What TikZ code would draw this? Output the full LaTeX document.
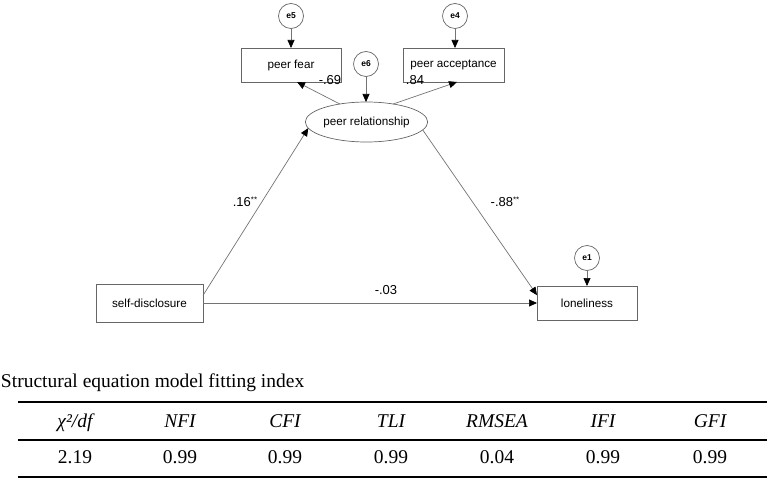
\documentclass[tikz,border=0pt]{standalone}
\usepackage{fontspec}
\setmainfont{Liberation Serif}
\setsansfont{Liberation Sans}
\usetikzlibrary{arrows.meta,calc,shapes.geometric}
\begin{document}
\begin{tikzpicture}[x=1pt,y=-1pt,
  every node/.style={inner sep=0pt,outer sep=0pt},
  box/.style={draw=black!60,line width=0.7pt,minimum width=100pt,minimum height=34pt,font=\sffamily\fontsize{11.7}{14}\selectfont},
  err/.style={circle,draw=black!60,line width=0.7pt,minimum size=25pt,font=\sffamily\bfseries\fontsize{8.5}{10}\selectfont},
  lat/.style={ellipse,draw=black!60,line width=0.7pt,minimum width=115pt,minimum height=40pt,font=\sffamily\fontsize{11.7}{14}\selectfont},
  pth/.style={draw=black!55,line width=0.7pt,-{Triangle[length=8pt,width=7pt,color=black]}},
  coef/.style={font=\sffamily\fontsize{13}{15}\selectfont},
  cell/.style={font=\fontsize{19.5}{22}\selectfont,anchor=base},
  hcell/.style={cell,font=\fontsize{19.5}{22}\selectfont\itshape},
  thickrule/.style={line width=2pt},
  thinrule/.style={line width=1.2pt}
]
\useasboundingbox (0,0) rectangle (767,481);
\newcommand{\sig}{\raisebox{4pt}{\fontsize{8}{8}\selectfont **}}

% measurement part
\node[err] (e5) at (291,16) {e5};
\node[box] (pf) at (291,65) {peer fear};
\node[err] (e4) at (455,16) {e4};
\node[box,minimum width=101pt] (pa) at (453.5,65) {peer acceptance};
\node[err] (e6) at (366,64) {e6};
\node[lat] (pr) at (366.5,122) {peer relationship};
\node[box,minimum width=107pt,minimum height=38pt] (sd) at (149.5,303) {self-disclosure};
\node[box] (lo) at (587,303) {loneliness};
\node[err] (e1) at (587,258) {e1};

% paths
\draw[pth] (e5) -- (pf);
\draw[pth] (e4) -- (e4 |- pa.north);
\draw[pth] (e6) -- (e6 |- pr.north);
\draw[pth] (e1) -- (e1 |- lo.north);
\draw[pth] (pr.146) -- ($(pf.south)+(6,0)$);
\draw[pth] (pr.34) -- ($(pa.south)+(3.5,0)$);
\draw[pth] ($(sd.north east)!0.3!(sd.south east)$) -- (pr.186);
\draw[pth] (pr.-8) -- ($(lo.north west)!0.27!(lo.south west)$);
\draw[pth] (sd.east) -- (lo.west);

% coefficients
\node[coef] (c1) at (330,80) {-.69};
\node[coef] (c2) at (415,80) {.84};
\node[coef] (c3) at (245,202) {.16\sig};
\node[coef] (c4) at (505,202) {-.88\sig};
\node[coef] (c5) at (386,290) {-.03};

% table
\node[anchor=base west,font=\fontsize{19.5}{22}\selectfont] (title) at (1,387) {Structural equation model fitting index};
\draw[thickrule] (18,402) -- (767,402);
\draw[thinrule] (18,440) -- (767,440);
\draw[thickrule] (18,477) -- (767,477);

\node[hcell] (h1) at (75,427) {χ²/df};
\node[hcell] (h2) at (180,427) {NFI};
\node[hcell] (h3) at (285,427) {CFI};
\node[hcell] (h4) at (391,427) {TLI};
\node[hcell] (h5) at (497,427) {RMSEA};
\node[hcell] (h6) at (603,427) {IFI};
\node[hcell] (h7) at (710,427) {GFI};

\node[cell] (d1) at (75,463) {2.19};
\node[cell] (d2) at (180,463) {0.99};
\node[cell] (d3) at (285,463) {0.99};
\node[cell] (d4) at (391,463) {0.99};
\node[cell] (d5) at (497,463) {0.04};
\node[cell] (d6) at (603,463) {0.99};
\node[cell] (d7) at (710,463) {0.99};
\end{tikzpicture}
\end{document}
